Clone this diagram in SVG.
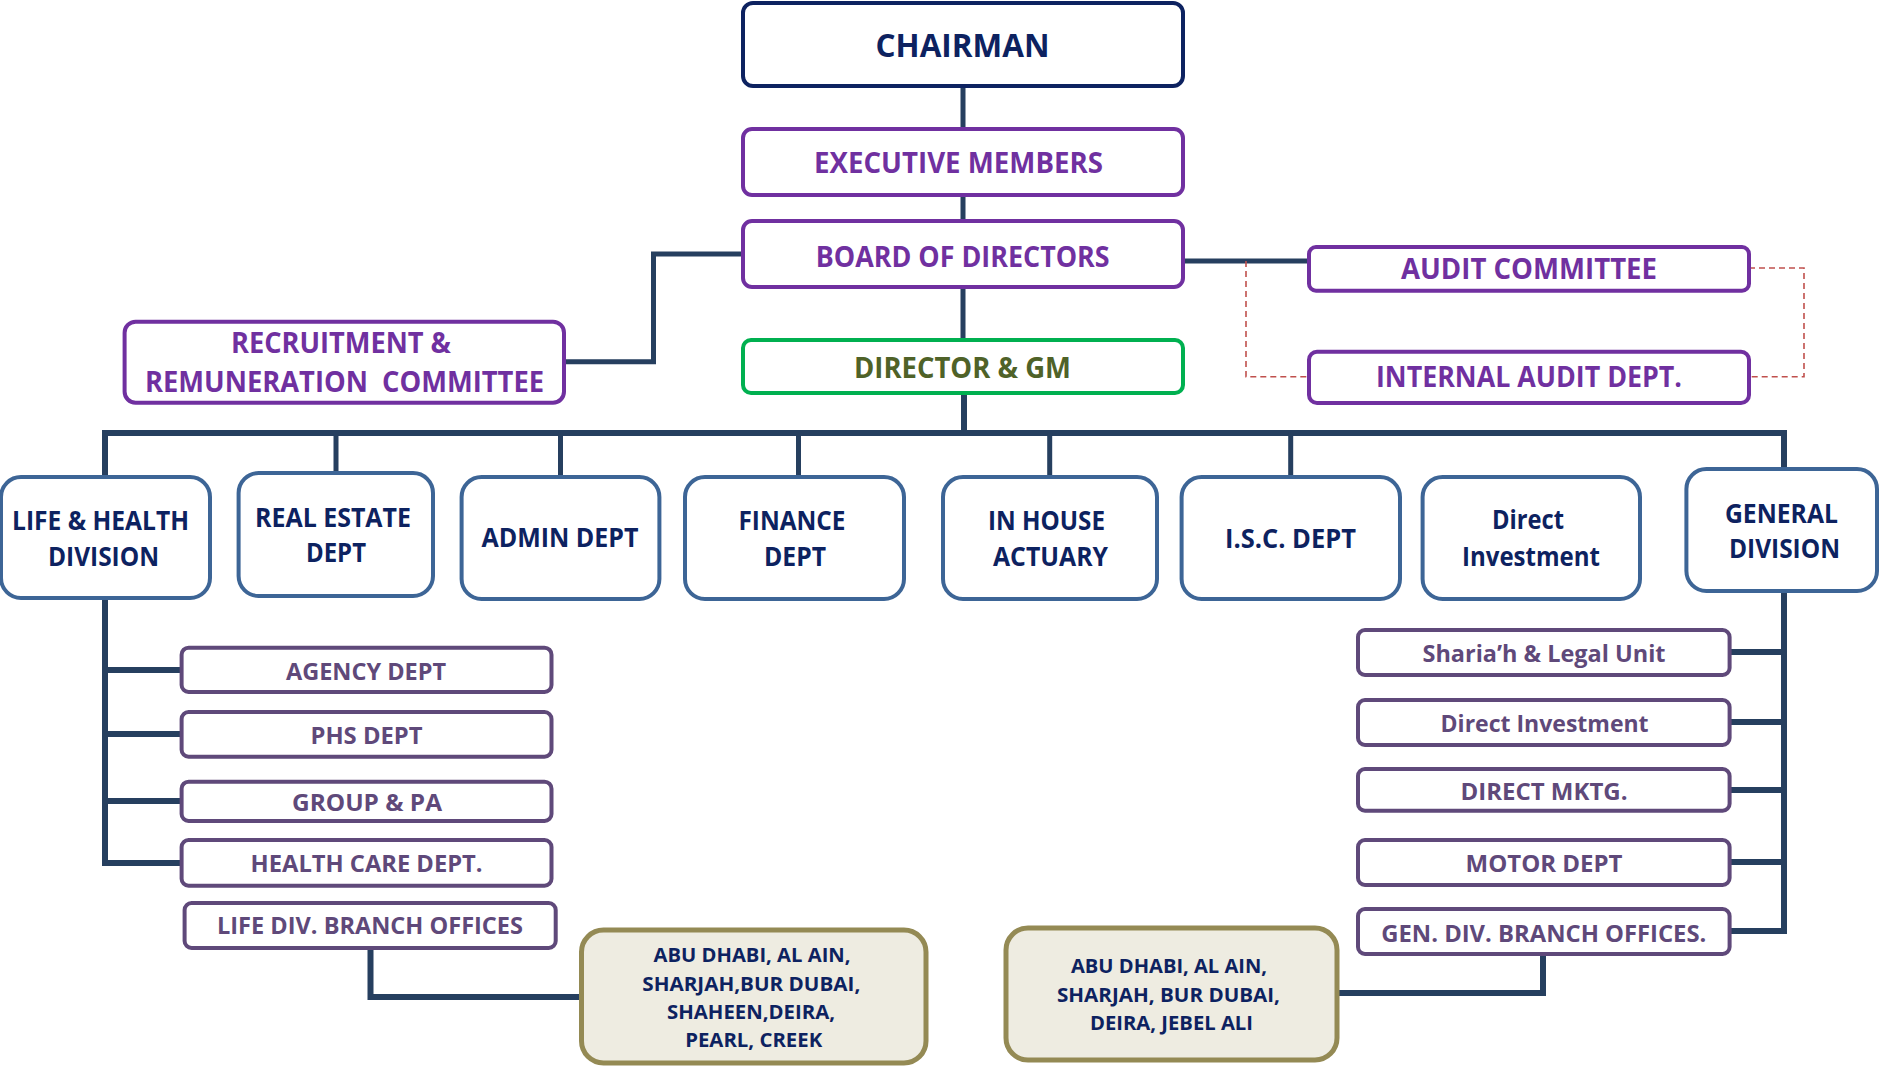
<svg xmlns="http://www.w3.org/2000/svg" width="1879" height="1066" viewBox="0 0 1879 1066">
<style>
text{font-family:"Open Sans","Noto Sans","Liberation Sans",sans-serif;font-weight:700;text-anchor:middle}
.top{fill:#fff;stroke:#7030a0;stroke-width:4}
.chair{fill:#fff;stroke:#0d2260;stroke-width:4}
.gm{fill:#fff;stroke:#00b050;stroke-width:4}
.mid{fill:#fff;stroke:#3d6596;stroke-width:4}
.low{fill:#fff;stroke:#5f497a;stroke-width:4}
.beige{fill:#eeece1;stroke:#948a54;stroke-width:5}
.tp{fill:#7030a0;font-size:28px}
.tn{fill:#0d2260}
.tm{fill:#0d2260;font-size:27px}
.tl{fill:#5f497a;font-size:24px}
.tb{fill:#0d2260;font-size:19px}
.conn{fill:none;stroke:#263f5f;stroke-linejoin:miter}
.dash{fill:none;stroke:#c0504d;stroke-width:1.6;stroke-dasharray:6 4}
</style>

<g id="connectors">
  <path class="conn" stroke-width="5" d="M963,86 V129 M963,195 V221 M963,287 V340"/>
  <path class="conn" stroke-width="6" d="M964,393 V433"/>
  <path class="conn" stroke-width="5" d="M743,254 H653.5 V361.7 H564"/>
  <path class="conn" stroke-width="5" d="M1183,261 H1309"/>
  <path class="dash" d="M1246,261 V376.7 H1309"/>
  <path class="dash" d="M1749,268 H1804 V376.7 H1749"/>
  <path class="conn" stroke-width="6" d="M105,477 V433 H1784 V469"/>
  <path class="conn" stroke-width="5" d="M336,433 V473 M560.5,433 V477 M798.5,433 V477 M1049.7,433 V477 M1290.7,433 V476"/>
  <path class="conn" stroke-width="6" d="M105,598 V863 H182 M105,670 H182 M105,734 H182 M105,801 H182"/>
  <path class="conn" stroke-width="6" d="M1784,591 V931 H1730 M1784,652 H1730 M1784,722 H1730 M1784,790 H1730 M1784,862 H1730"/>
  <path class="conn" stroke-width="6" d="M370.5,948 V997 H581"/>
  <path class="conn" stroke-width="6" d="M1543,954 V993 H1339"/>
</g>

<g id="chairman">
  <rect class="chair" x="743" y="3" width="440" height="83" rx="10"/>
  <text class="tn" x="962.5" y="56.5" font-size="32" textLength="174" lengthAdjust="spacingAndGlyphs">CHAIRMAN</text>
</g>
<g id="executive-members">
  <rect class="top" x="743" y="129" width="440" height="66" rx="9"/>
  <text class="tp" x="958.5" y="173" textLength="289" lengthAdjust="spacingAndGlyphs">EXECUTIVE MEMBERS</text>
</g>
<g id="board-of-directors">
  <rect class="top" x="743" y="221" width="440" height="66" rx="9"/>
  <text class="tp" x="962.7" y="266.7" textLength="294" lengthAdjust="spacingAndGlyphs">BOARD OF DIRECTORS</text>
</g>
<g id="director-gm">
  <rect class="gm" x="743" y="340" width="440" height="53" rx="8"/>
  <text x="962.5" y="377.5" font-size="28" fill="#4f6228" textLength="217" lengthAdjust="spacingAndGlyphs">DIRECTOR &amp; GM</text>
</g>
<g id="recruitment-committee">
  <rect class="top" x="124.6" y="321.7" width="439.4" height="81" rx="11"/>
  <text class="tp" x="341" y="353.3" textLength="220" lengthAdjust="spacingAndGlyphs">RECRUITMENT &amp;</text>
  <text class="tp" x="344.5" y="391.7" textLength="399" lengthAdjust="spacingAndGlyphs" xml:space="preserve">REMUNERATION  COMMITTEE</text>
</g>
<g id="audit-committee">
  <rect class="top" x="1309" y="247" width="440" height="43.7" rx="7"/>
  <text class="tp" x="1529" y="279.3" textLength="256" lengthAdjust="spacingAndGlyphs">AUDIT COMMITTEE</text>
</g>
<g id="internal-audit">
  <rect class="top" x="1309" y="351.7" width="440" height="51.3" rx="8"/>
  <text class="tp" x="1529" y="387.3" textLength="306" lengthAdjust="spacingAndGlyphs">INTERNAL AUDIT DEPT.</text>
</g>

<g id="life-health-division">
  <rect class="mid" x="1" y="477" width="209" height="121" rx="20"/>
  <text class="tm" x="100.5" y="530" textLength="177" lengthAdjust="spacingAndGlyphs">LIFE &amp; HEALTH</text>
  <text class="tm" x="103.5" y="565.7" textLength="111" lengthAdjust="spacingAndGlyphs">DIVISION</text>
</g>
<g id="real-estate">
  <rect class="mid" x="238.6" y="473" width="194.4" height="123" rx="20"/>
  <text class="tm" x="333" y="526.7" textLength="156" lengthAdjust="spacingAndGlyphs">REAL ESTATE</text>
  <text class="tm" x="336" y="561.7" textLength="60" lengthAdjust="spacingAndGlyphs">DEPT</text>
</g>
<g id="admin">
  <rect class="mid" x="461.6" y="477" width="197.8" height="122" rx="20"/>
  <text class="tm" x="560" y="547.3" textLength="157" lengthAdjust="spacingAndGlyphs">ADMIN DEPT</text>
</g>
<g id="finance">
  <rect class="mid" x="685" y="477" width="219" height="122" rx="20"/>
  <text class="tm" x="792" y="530" textLength="107" lengthAdjust="spacingAndGlyphs">FINANCE</text>
  <text class="tm" x="795" y="565.7" textLength="62" lengthAdjust="spacingAndGlyphs">DEPT</text>
</g>
<g id="in-house-actuary">
  <rect class="mid" x="943" y="477" width="214" height="122" rx="20"/>
  <text class="tm" x="1046.5" y="530" textLength="117" lengthAdjust="spacingAndGlyphs">IN HOUSE</text>
  <text class="tm" x="1050.5" y="566" textLength="115" lengthAdjust="spacingAndGlyphs">ACTUARY</text>
</g>
<g id="isc">
  <rect class="mid" x="1181.6" y="477" width="218.4" height="122" rx="20"/>
  <text class="tm" x="1290.5" y="548" textLength="131" lengthAdjust="spacingAndGlyphs">I.S.C. DEPT</text>
</g>
<g id="direct-investment">
  <rect class="mid" x="1422.6" y="477" width="217.4" height="122" rx="20"/>
  <text class="tm" x="1528" y="529.3" textLength="72" lengthAdjust="spacingAndGlyphs">Direct</text>
  <text class="tm" x="1531" y="565.7" textLength="138" lengthAdjust="spacingAndGlyphs">Investment</text>
</g>
<g id="general-division">
  <rect class="mid" x="1686.4" y="469" width="190.6" height="122" rx="20"/>
  <text class="tm" x="1781.4" y="523.3" textLength="113" lengthAdjust="spacingAndGlyphs">GENERAL</text>
  <text class="tm" x="1784.5" y="557.7" textLength="111" lengthAdjust="spacingAndGlyphs">DIVISION</text>
</g>

<g id="agency">
  <rect class="low" x="181.6" y="647.7" width="369.9" height="44.3" rx="7"/>
  <text class="tl" x="366" y="680" textLength="160" lengthAdjust="spacingAndGlyphs">AGENCY DEPT</text>
</g>
<g id="phs">
  <rect class="low" x="181.6" y="712" width="369.9" height="44.7" rx="7"/>
  <text class="tl" x="366.5" y="744" textLength="112" lengthAdjust="spacingAndGlyphs">PHS DEPT</text>
</g>
<g id="group-pa">
  <rect class="low" x="181.6" y="781.7" width="369.9" height="39.3" rx="7"/>
  <text class="tl" x="367" y="810.7" textLength="150" lengthAdjust="spacingAndGlyphs">GROUP &amp; PA</text>
</g>
<g id="health-care">
  <rect class="low" x="181.6" y="840" width="369.9" height="45.7" rx="7"/>
  <text class="tl" x="366.6" y="871.7" textLength="232" lengthAdjust="spacingAndGlyphs">HEALTH CARE DEPT.</text>
</g>
<g id="life-branch-offices">
  <rect class="low" x="184.6" y="903" width="371.1" height="45" rx="7"/>
  <text class="tl" x="370" y="934.3" textLength="306" lengthAdjust="spacingAndGlyphs">LIFE DIV. BRANCH OFFICES</text>
</g>
<g id="life-branches">
  <rect class="beige" x="581.5" y="930" width="344.5" height="133" rx="22"/>
  <text class="tb" x="752" y="961.7" textLength="197" lengthAdjust="spacingAndGlyphs">ABU DHABI, AL AIN,</text>
  <text class="tb" x="751.3" y="990.7" textLength="218" lengthAdjust="spacingAndGlyphs">SHARJAH,BUR DUBAI,</text>
  <text class="tb" x="751" y="1019" textLength="168" lengthAdjust="spacingAndGlyphs">SHAHEEN,DEIRA,</text>
  <text class="tb" x="753.7" y="1047.3" textLength="137" lengthAdjust="spacingAndGlyphs">PEARL, CREEK</text>
</g>

<g id="shariah-legal">
  <rect class="low" x="1358" y="630" width="371.6" height="45" rx="7"/>
  <text class="tl" x="1544" y="661.7" textLength="243" lengthAdjust="spacingAndGlyphs">Sharia’h &amp; Legal Unit</text>
</g>
<g id="direct-investment-unit">
  <rect class="low" x="1358" y="700" width="371.6" height="45" rx="7"/>
  <text class="tl" x="1544.6" y="731.7" textLength="208" lengthAdjust="spacingAndGlyphs">Direct Investment</text>
</g>
<g id="direct-mktg">
  <rect class="low" x="1358" y="769" width="371.6" height="41.7" rx="7"/>
  <text class="tl" x="1544" y="800" textLength="167" lengthAdjust="spacingAndGlyphs">DIRECT MKTG.</text>
</g>
<g id="motor">
  <rect class="low" x="1358" y="840" width="371.6" height="45" rx="7"/>
  <text class="tl" x="1544" y="871.7" textLength="157" lengthAdjust="spacingAndGlyphs">MOTOR DEPT</text>
</g>
<g id="gen-branch-offices">
  <rect class="low" x="1358" y="909" width="371.6" height="45" rx="7"/>
  <text class="tl" x="1543.8" y="941.7" textLength="325" lengthAdjust="spacingAndGlyphs">GEN. DIV. BRANCH OFFICES.</text>
</g>
<g id="gen-branches">
  <rect class="beige" x="1006" y="928" width="331" height="132" rx="22"/>
  <text class="tb" x="1169" y="973.3" textLength="196" lengthAdjust="spacingAndGlyphs">ABU DHABI, AL AIN,</text>
  <text class="tb" x="1168.5" y="1001.7" textLength="223" lengthAdjust="spacingAndGlyphs">SHARJAH, BUR DUBAI,</text>
  <text class="tb" x="1171.5" y="1030" textLength="163" lengthAdjust="spacingAndGlyphs">DEIRA, JEBEL ALI</text>
</g>
</svg>
